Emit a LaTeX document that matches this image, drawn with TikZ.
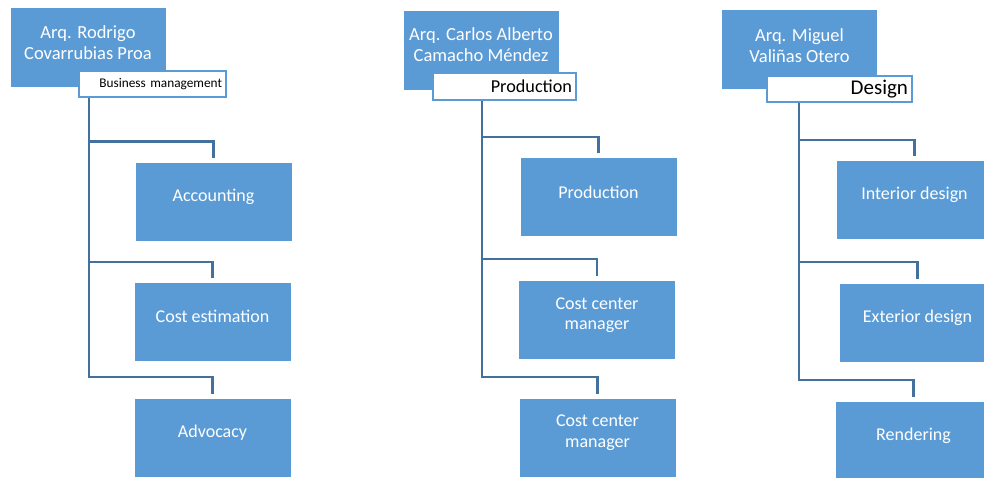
\documentclass[tikz,border=0pt]{standalone}
\usepackage{fontspec}
\setmainfont{Carlito}
\definecolor{boxblue}{HTML}{5B9BD5}
\definecolor{lineblue}{HTML}{41719C}
\begin{document}
\begin{tikzpicture}[x=1pt,y=-1pt,
  headbox/.style={rectangle,fill=boxblue,draw=white,line width=0.6pt,minimum width=156pt,minimum height=80pt,inner sep=0pt},
  headtext/.style={text=white,align=center,font=\fontsize{18.5}{21}\selectfont,inner sep=0pt},
  childbox/.style={rectangle,fill=boxblue,draw=white,line width=0.6pt,minimum width=157pt,minimum height=79pt,inner sep=0pt},
  childtext/.style={text=white,align=center,font=\fontsize{18}{20.5}\selectfont,inner sep=0pt},
  lblbox/.style={rectangle,fill=white,draw=boxblue,line width=2pt,inner xsep=4pt,inner ysep=0pt,align=right,text=black},
  conn/.style={draw=lineblue,line width=2.4pt,shorten >=4pt}
]
\useasboundingbox (0,0) rectangle (984,478);
\begin{scope}
\clip (0,0) rectangle (984,478);
% ---------- group 1
\node[headbox] (h1) at (88,47) {};
\node[headtext] at ([yshift=4pt]h1.center) {Arq. Rodrigo\\Covarrubias Proa};
\coordinate (t1) at (89,92);
\node[childbox] (c11) at (213.5,201.5) {};
\node[childbox] (c12) at (212.5,321.5) {};
\node[childbox] (c13) at (212.5,437.5) {};
\draw[conn] (t1) |- ([yshift=20pt]c11.north) -- (c11.north);
\draw[conn] (t1) |- ([yshift=20pt]c12.north) -- (c12.north);
\draw[conn] (t1) |- ([yshift=21pt]c13.north) -- (c13.north);
\node[lblbox,minimum width=147pt,minimum height=26pt,text width=139pt,font=\fontsize{13.3}{15}\selectfont] (l1) at (152.5,84) {Business management};
\node[childtext] at ([yshift=5pt]c11.center) {Accounting};
\node[childtext] at ([yshift=5pt]c12.center) {Cost estimation};
\node[childtext] at ([yshift=5pt]c13.center) {Advocacy};
% ---------- group 2
\node[headbox] (h2) at (481,50) {};
\node[headtext] at ([yshift=5pt]h2.center) {Arq. Carlos Alberto\\Camacho Méndez};
\coordinate (t2) at (482,94);
\node[childbox] (c21) at (598.5,197) {};
\node[childbox] (c22) at (597,320) {};
\node[childbox] (c23) at (597.5,437.5) {};
\draw[conn] (t2) |- ([yshift=20pt]c21.north) -- (c21.north);
\draw[conn] (t2) |- ([yshift=21pt]c22.north) -- (c22.north);
\draw[conn] (t2) |- ([yshift=21pt]c23.north) -- (c23.north);
\node[lblbox,minimum width=143pt,minimum height=27pt,text width=135pt,font=\fontsize{18.2}{20}\selectfont] (l2) at (504.5,86.5) {Production};
\node[childtext] at ([yshift=5pt]c21.center) {Production};
\node[childtext] at ([yshift=5pt]c22.center) {Cost center\\manager};
\node[childtext] at ([yshift=5pt]c23.center) {Cost center\\manager};
% ---------- group 3
\node[headbox] (h3) at (799.5,49.5) {};
\node[headtext] at ([yshift=4pt]h3.center) {Arq. Miguel\\Valiñas Otero};
\coordinate (t3) at (799,96);
\node[childbox] (c31) at (914.5,200) {};
\node[childbox] (c32) at (917.5,322.5) {};
\node[childbox] (c33) at (913.5,441) {};
\draw[conn] (t3) |- ([yshift=20pt]c31.north) -- (c31.north);
\draw[conn] (t3) |- ([yshift=21pt]c32.north) -- (c32.north);
\draw[conn] (t3) |- ([yshift=21pt]c33.north) -- (c33.north);
\node[lblbox,minimum width=145pt,minimum height=26pt,text width=137pt,font=\fontsize{21}{22}\selectfont] (l3) at (839.5,89) {Design};
\node[childtext] at ([yshift=5pt]c31.center) {Interior design};
\node[childtext] at ([yshift=5pt]c32.center) {Exterior design};
\node[childtext] at ([yshift=5pt]c33.center) {Rendering};
\end{scope}
\end{tikzpicture}
\end{document}
